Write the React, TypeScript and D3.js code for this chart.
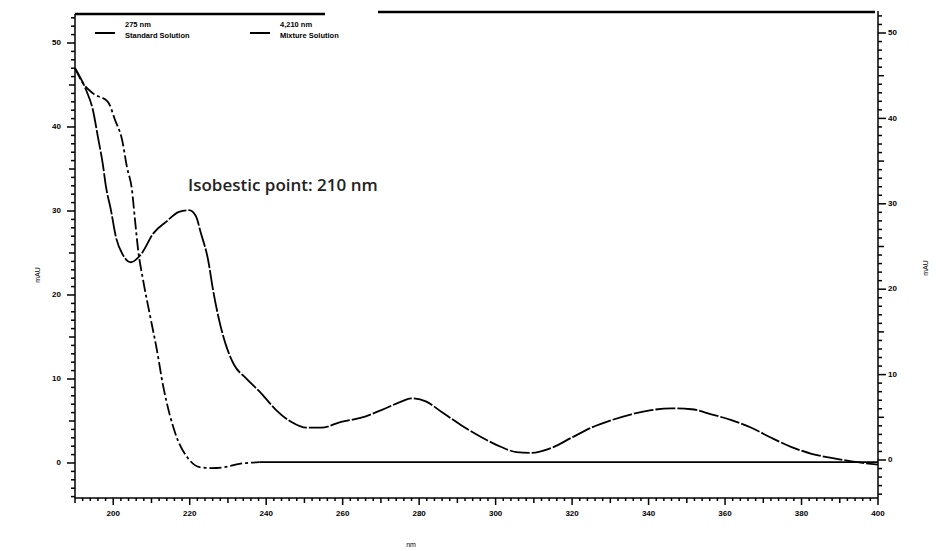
import * as d3 from 'd3';

// wavelength (nm) vs absorbance (mAU)
const standardNm = [190, 192.1, 194.7, 198.6, 200.5, 202.3, 203.6, 204.9, 205.7, 206.5, 207.8, 209.6, 211.4, 213, 214.8, 216.9, 219.5, 222.6, 225.7, 229.1, 233, 238.2, 260, 300, 340, 380, 400];
const standardAu = [47.0, 45.2, 44.0, 43.0, 40.8, 38.5, 35.2, 32.5, 28.9, 25.4, 21.8, 17.6, 13.5, 9.3, 5.7, 2.7, 0.6, -0.5, -0.6, -0.5, -0.1, 0.1, 0.1, 0.1, 0.1, 0.1, 0.1];

const mixtureNm = [190, 192.9, 194.7, 196, 197.3, 198.1, 199.4, 200.7, 202.5, 204.6, 207.2, 210.6, 213.8, 217.2, 219.8, 221.6, 222.9, 224.8, 226.1, 227.7, 229.5, 231.6, 234.7, 238.7, 242.6, 246.5, 250.5, 254.4, 259.6, 264.9, 270.1, 275.3, 277.9, 281.9, 285.8, 291, 296.2, 301.5, 305.4, 309.3, 314.6, 319.8, 325, 330.3, 335.5, 340.7, 346, 351.2, 356.4, 361.7, 366.9, 372.1, 377.4, 382.6, 387.8, 393.1, 400];
const mixtureAu = [47.0, 44.4, 42.0, 38.8, 35.5, 32.9, 30.1, 26.9, 24.8, 23.9, 24.8, 27.4, 28.7, 29.9, 30.1, 29.4, 27.4, 24.2, 20.6, 17.0, 14.0, 11.7, 10.1, 8.3, 6.3, 4.9, 4.2, 4.2, 4.9, 5.4, 6.3, 7.3, 7.7, 7.3, 6.1, 4.5, 3.1, 1.9, 1.3, 1.2, 1.8, 3.0, 4.2, 5.1, 5.8, 6.3, 6.5, 6.4, 5.8, 5.1, 4.2, 3.0, 1.9, 1.1, 0.6, 0.2, -0.2];

const legendItems = [
  { top: '275 nm', bottom: 'Standard Solution' },
  { top: '4,210 nm', bottom: 'Mixture Solution' },
];

const xLabels = [200, 220, 240, 260, 280, 300, 320, 340, 360, 380, 400];
const yLabels = [0, 10, 20, 30, 40, 50];

export default function App() {
  const left = 75, right = 878, top = 14, bottom = 498;
  const x = d3.scaleLinear().domain([190, 400]).range([left, right]);
  const y = d3.scaleLinear().domain([0, 50]).range([463, 43]);
  const yR = d3.scaleLinear().domain([0, 50]).range([460, 33]);

  const line = d3.line<[number, number]>()
    .x(d => x(d[0]))
    .y(d => y(d[1]))
    .curve(d3.curveMonotoneX);

  const standard = standardNm.map((n, i) => [n, standardAu[i]] as [number, number]);
  const standardDrop = standard.filter(d => d[0] <= 238.2);
  const standardFlat = standard.filter(d => d[0] >= 238.2);
  const mixture = mixtureNm.map((n, i) => [n, mixtureAu[i]] as [number, number]);

  const yMinor = d3.range(-4, 54, 1);
  const yMinorR = d3.range(-4, 56, 1);
  const xMinor = d3.range(190, 401, 2);
  const font = 'Liberation Sans, Arial, sans-serif';

  return (
    <svg width={936} height={551} style={{ position: 'absolute', left: 0, top: 0, background: '#fff' }}>
      {/* frame */}
      <line x1={left} x2={325} y1={top} y2={top} stroke="#000" strokeWidth={2.5} />
      <line x1={378} x2={right - 3} y1={top - 2} y2={top - 2} stroke="#000" strokeWidth={2.5} />
      <line x1={left} x2={left} y1={top} y2={bottom} stroke="#000" strokeWidth={1.5} />
      <line x1={right} x2={right} y1={top - 3} y2={bottom} stroke="#000" strokeWidth={1.5} />
      <line x1={left} x2={right} y1={bottom} y2={bottom} stroke="#000" strokeWidth={1.5} />

      {/* left axis ticks */}
      {yMinor.filter(v => y(v) >= top && y(v) <= bottom).map(v => (
        <line key={'l' + v} x1={left} x2={left - (v % 10 === 0 ? 8 : v % 5 === 0 ? 6 : 4)} y1={y(v)} y2={y(v)} stroke="#000" strokeWidth={1.5} />
      ))}
      {yLabels.map(v => (
        <text key={'ll' + v} x={left - 14} y={y(v)} textAnchor="end" dominantBaseline="middle" fontSize={8} fontWeight="bold" fontFamily={font}>{v}</text>
      ))}

      {/* right axis ticks */}
      {yMinorR.filter(v => yR(v) >= top && yR(v) <= bottom).map(v => (
        <line key={'r' + v} x1={right} x2={right + (v % 10 === 0 ? 8 : v % 5 === 0 ? 6 : 4)} y1={yR(v)} y2={yR(v)} stroke="#000" strokeWidth={1.5} />
      ))}
      {yLabels.map(v => (
        <text key={'rl' + v} x={right + 10} y={yR(v)} textAnchor="start" dominantBaseline="middle" fontSize={8} fontWeight="bold" fontFamily={font}>{v}</text>
      ))}

      {/* bottom axis ticks */}
      {xMinor.map(v => (
        <line key={'b' + v} x1={x(v)} x2={x(v)} y1={bottom} y2={bottom + (v % 20 === 0 ? 7 : v % 10 === 0 ? 5 : 3)} stroke="#000" strokeWidth={1.5} />
      ))}
      {xLabels.map(v => (
        <text key={'bl' + v} x={x(v)} y={bottom + 18} textAnchor="middle" fontSize={8} fontWeight="bold" fontFamily={font}>{v}</text>
      ))}

      {/* axis titles */}
      <text x={411} y={547} textAnchor="middle" fontSize={7} fontFamily={font}>nm</text>
      <text transform="translate(40,275) rotate(-90)" textAnchor="middle" fontSize={7} fontFamily={font}>mAU</text>
      <text transform="translate(928,268) rotate(-90)" textAnchor="middle" fontSize={7} fontFamily={font}>mAU</text>

      {/* legend */}
      {legendItems.map((d, i) => {
        const lx = i === 0 ? 95 : 250;
        return (
          <g key={'lg' + i}>
            <line x1={lx} x2={lx + 20} y1={33} y2={33} stroke="#000" strokeWidth={2} />
            <text x={lx + 30} y={27} fontSize={7.5} fontWeight="bold" fontFamily={font}>{d.top}</text>
            <text x={lx + 30} y={38} fontSize={7.5} fontWeight="bold" fontFamily={font}>{d.bottom}</text>
          </g>
        );
      })}

      {/* curves */}
      <path d={line(standardDrop) || ''} fill="none" stroke="#000" strokeWidth={1.8} strokeDasharray="12 3 3 3" />
      <path d={line(standardFlat) || ''} fill="none" stroke="#000" strokeWidth={1.8} />
      <path d={line(mixture) || ''} fill="none" stroke="#000" strokeWidth={1.8} strokeDasharray="20 2" />

      <text x={188} y={191} fontSize={17} fontWeight={600} fontFamily="'Open Sans', sans-serif" fill="#222">Isobestic point: 210 nm</text>
    </svg>
  );
}
